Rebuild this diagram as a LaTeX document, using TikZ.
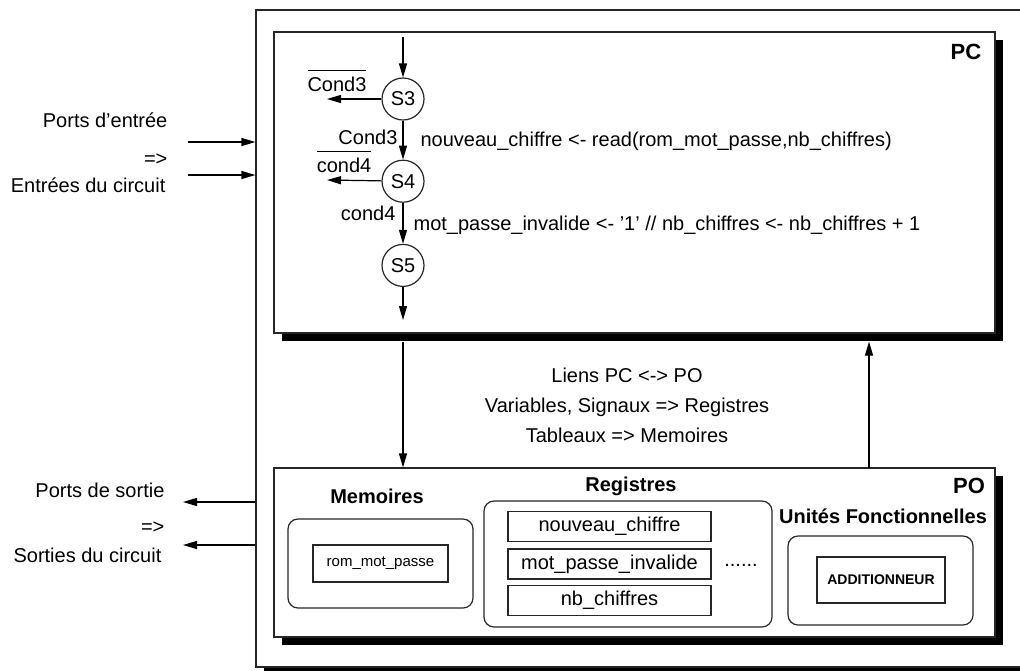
\documentclass[tikz,border=0pt]{standalone}
\usepackage{fontspec}
\setmainfont{Liberation Sans}
\usetikzlibrary{positioning, arrows.meta, shadows}
\tikzset{
    cadre/.style={rectangle, draw=black!85, fill=white, line width=0.6pt, general shadow={fill=black, shadow xshift=4pt, shadow yshift=-4pt}},
    etat/.style={circle, draw=black!85, fill=white, line width=0.6pt, minimum size=21pt, inner sep=0pt},
    groupe/.style={rectangle, rounded corners=5pt, draw=black!85, line width=0.6pt, minimum width=92.5pt, minimum height=44.5pt},
    reg/.style={rectangle, draw=black!85, line width=0.6pt, minimum width=101.5pt, minimum height=15pt, inner sep=0pt},
    titre/.style={font=\fontsize{10}{12}\selectfont\bfseries, inner sep=0pt, anchor=base},
    lbl/.style={inner sep=0pt},
}
\newcommand{\nonc}[1]{$\overline{\mbox{\rule{0pt}{9pt}#1}}$}

\begin{document}
\begin{tikzpicture}[x=0.5pt, y=-0.5pt, >={Triangle[length=7pt,width=4pt]}, line width=0.6pt, font=\fontsize{10}{12}\selectfont]
    \useasboundingbox (0,0) rectangle (1020,670);
    \node [cadre, minimum width=387pt, minimum height=328.5pt] (sys) at (643,338.5) {};
    \node [cadre, minimum width=360.5pt, minimum height=150.5pt] (pc) at (634.5,182.5) {};
    \node [cadre, minimum width=360.5pt, minimum height=84.5pt] (po) at (634.5,552.5) {};
    \node [titre, font=\fontsize{11}{13}\selectfont\bfseries] (pclbl) at (966,59) {PC};
    \node [titre, font=\fontsize{11}{13}\selectfont\bfseries] (polbl) at (969,493) {PO};

    \node [etat] (s3) at (403,99) {S3};
    \node [etat] (s4) [below=19.5pt of s3] {S4};
    \node [etat] (s5) [below=20.5pt of s4] {S5};
    \coordinate (entree) at (403,37);
    \coordinate (sortie) at (403,320);
    \coordinate (nc3) at (327,99);
    \coordinate (nc4) at (327,180);
    \draw[->] (entree) -- (s3);
    \draw[->] (s3) -- (s4);
    \draw[->] (s4) -- (s5);
    \draw[->] (s5) -- (sortie);
    \draw[->] (s3) -- (nc3);
    \draw[->] (s4) -- (nc4);
    \node [lbl, anchor=base] (ncond3) at (337,91) {\nonc{Cond3}};
    \node [lbl, anchor=base east] (cond3) at (398,144) {Cond3};
    \node [lbl, anchor=base west] (act3) at (420,146) {nouveau\_chiffre <- read(rom\_mot\_passe,nb\_chiffres)};
    \node [lbl, anchor=base] (ncond4) at (344,172) {\nonc{cond4}};
    \node [lbl, anchor=base east] (cond4) at (396,220) {cond4};
    \node [lbl, anchor=base west] (act4) at (413,230) {mot\_passe\_invalide <- '1' // nb\_chiffres <- nb\_chiffres + 1};

    \node [lbl, anchor=base east] (pin) at (168,127) {Ports d'entrée};
    \node [lbl, anchor=base east] (pinfl) at (168,165) {=>};
    \node [lbl, anchor=base east] (cin) at (166,192) {Entrées du circuit};
    \coordinate (e1) at (188,142);
    \coordinate (e2) at (188,175);
    \draw[->] (e1) -- (e1 -| sys.west);
    \draw[->] (e2) -- (e2 -| sys.west);
    \node [lbl, anchor=base east] (pout) at (165,497) {Ports de sortie};
    \node [lbl, anchor=base east] (poutfl) at (165,533) {=>};
    \node [lbl, anchor=base east] (cout) at (162,562) {Sorties du circuit};
    \coordinate (o1) at (183,502);
    \coordinate (o2) at (183,545);
    \draw[->] (o1 -| sys.west) -- (o1);
    \draw[->] (o2 -| sys.west) -- (o2);

    \node [lbl, align=center, font=\fontsize{10}{15}\selectfont] (liens) at (627,405) {Liens PC <-> PO\\Variables, Signaux => Registres\\Tableaux => Memoires};
    \coordinate (pcb) at ([yshift=-4pt]pc.south);
    \coordinate (retour) at (869,468);
    \draw[->] (pcb -| s5) -- (po.north -| s5);
    \draw[->] (retour) -- (retour |- pcb);

    \node [titre] (memt) at (377,503) {Memoires};
    \node [groupe] (mem) at (380.5,563.5) {};
    \node [draw=black!85, font=\fontsize{7.5}{9}\selectfont, minimum width=67.5pt, minimum height=18.5pt] (rom) at (mem) {rom\_mot\_passe};
    \node [titre] (regt) at (631,491) {Registres};
    \node [groupe, minimum width=144pt, minimum height=63pt] (regs) at (628,564) {};
    \node [reg] (r1) at (609.5,526.5) {nouveau\_chiffre};
    \node [reg] (r2) at (609.5,564) {mot\_passe\_invalide};
    \node [reg] (r3) at (609.5,600.5) {nb\_chiffres};
    \node [lbl, anchor=base] (dots) at (741,566) {......};
    \node [titre] (uft) at (883,523) {Unités Fonctionnelles};
    \node [groupe] (uf) at (880.5,580.5) {};
    \node [draw=black!85, font=\fontsize{7}{8}\selectfont\bfseries, minimum width=64pt, minimum height=23pt] (add) at (881,580) {ADDITIONNEUR};
\end{tikzpicture}
\end{document}
